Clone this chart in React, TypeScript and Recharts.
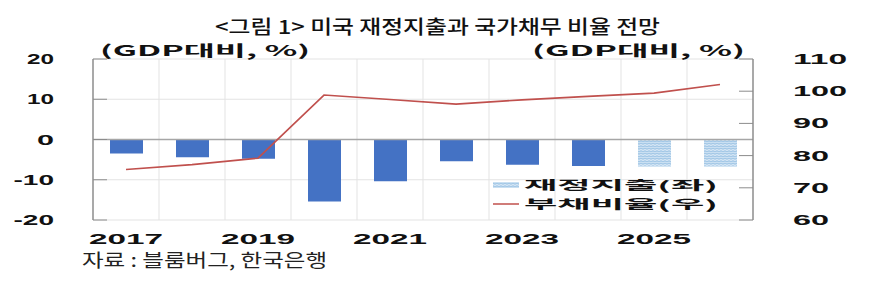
import React from 'react';
import {
  ComposedChart,
  Bar,
  Line,
  XAxis,
  YAxis,
  CartesianGrid,
  ReferenceLine,
  Cell,
} from 'recharts';

const years = ['2017', '2018', '2019', '2020', '2021', '2022', '2023', '2024', '2025', '2026'];
const spending = [-3.5, -4.4, -4.8, -15.4, -10.4, -5.4, -6.3, -6.6, -6.7, -6.7];
const debtRatio = [75.7, 77.2, 79.2, 98.8, 97.4, 96.0, 97.3, 98.4, 99.4, 102.1];
const forecastYears = ['2025', '2026'];
const leftTicks = [-20, -10, 0, 10, 20];
const rightTicks = [60, 70, 80, 90, 100, 110];

const data = years.map((year, i) => ({ year, spending: spending[i], debt: debtRatio[i] }));

const BAR_BLUE = '#4472c4';
const LINE_RED = '#c0504d';
const AXIS_GRAY = '#8c8c8c';
const NUM_FONT = '"Liberation Sans", Arial, sans-serif';
const KR_FONT = '"Noto Sans CJK KR", "Noto Sans", sans-serif';

const LeftTick = (props: any) => {
  const { x, y, payload } = props;
  const label = String(payload.value);
  return (
    <g>
      <line x1={x} y1={y} x2={x + 14} y2={y} stroke={AXIS_GRAY} strokeWidth={1} />
      <text
        x={x - 39}
        y={y + 5}
        textAnchor="end"
        fontFamily={NUM_FONT}
        fontWeight={900}
        fontSize={15}
        fill="#111"
        textLength={label.length === 1 ? 17 : label.length * 13.5}
        lengthAdjust="spacingAndGlyphs"
      >
        {label}
      </text>
    </g>
  );
};

const RightTick = (props: any) => {
  const { x, y, payload } = props;
  const label = String(payload.value);
  return (
    <g>
      <line x1={x - 14} y1={y} x2={x} y2={y} stroke={AXIS_GRAY} strokeWidth={1} />
      <text
        x={x + 40}
        y={y + 5}
        textAnchor="start"
        fontFamily={NUM_FONT}
        fontWeight={900}
        fontSize={15}
        fill="#111"
        textLength={label.length * 18}
        lengthAdjust="spacingAndGlyphs"
      >
        {label}
      </text>
    </g>
  );
};

const YearTick = (props: any) => {
  const { x, y, payload } = props;
  return (
    <text
      x={x - 37}
      y={y + 16}
      fontFamily={NUM_FONT}
      fontWeight={900}
      fontSize={15}
      fill="#111"
      textLength={74}
      lengthAdjust="spacingAndGlyphs"
    >
      {payload.value}
    </text>
  );
};

export default function App() {
  return (
    <div style={{ position: 'absolute', left: 0, top: 0, width: 869, height: 301, background: '#fff' }}>
      <div style={{ position: 'absolute', left: 0, top: 0 }}>
        <ComposedChart
          width={869}
          height={301}
          data={data}
          margin={{ top: 59, right: 0, bottom: 51, left: 0 }}
        >
          <defs>
            <pattern id="wave" width={4} height={2.5} patternUnits="userSpaceOnUse">
              <rect width={4} height={2.5} fill="#d8e8f5" />
              <path d="M0 1.25 Q1 0.2 2 1.25 T4 1.25" stroke="#6fa8d8" strokeWidth={0.8} fill="none" />
            </pattern>
          </defs>
          <CartesianGrid
            stroke="#e3e3e3"
            yAxisId="left"
            verticalCoordinatesGenerator={({ offset }: any) =>
              years.slice(1).map((_, i) => offset.left + ((i + 1) * offset.width) / years.length)
            }
          />
          <XAxis
            dataKey="year"
            interval={1}
            axisLine={false}
            tickLine={false}
            tick={<YearTick />}
            height={30}
          />
          <YAxis
            yAxisId="left"
            orientation="left"
            width={93}
            domain={[-20, 20]}
            ticks={leftTicks}
            axisLine={{ stroke: AXIS_GRAY, strokeWidth: 1.5 }}
            tickLine={false}
            tickSize={0}
            tickMargin={0}
            tick={<LeftTick />}
            allowDataOverflow
          />
          <YAxis
            yAxisId="right"
            orientation="right"
            width={116}
            domain={[60, 110]}
            ticks={rightTicks}
            axisLine={{ stroke: AXIS_GRAY, strokeWidth: 1.5 }}
            tickLine={false}
            tickSize={0}
            tickMargin={0}
            tick={<RightTick />}
            allowDataOverflow
          />
          <ReferenceLine y={0} yAxisId="left" stroke="#a6a6a6" strokeWidth={1.5} />
          <Bar dataKey="spending" yAxisId="left" barSize={33} isAnimationActive={false}>
            {data.map((d) => (
              <Cell key={d.year} fill={forecastYears.includes(d.year) ? 'url(#wave)' : BAR_BLUE} />
            ))}
          </Bar>
          <Line
            dataKey="debt"
            yAxisId="right"
            type="linear"
            stroke={LINE_RED}
            strokeWidth={1.6}
            dot={false}
            isAnimationActive={false}
          />
        </ComposedChart>
      </div>
      <svg width={869} height={301} style={{ position: 'absolute', left: 0, top: 0, pointerEvents: 'none' }}>
        <text x={215} y={34} fontFamily={KR_FONT} fontWeight={500} fontSize={19} fill="#111" textLength={445} lengthAdjust="spacingAndGlyphs">
          {'<그림 1> 미국 재정지출과 국가채무 비율 전망'}
        </text>
        <text x={100} y={56} fontFamily={KR_FONT} fontWeight={700} fontSize={15} fill="#111" textLength={210} lengthAdjust="spacingAndGlyphs">
          (GDP대비, %)
        </text>
        <text x={532} y={56} fontFamily={KR_FONT} fontWeight={700} fontSize={15} fill="#111" textLength={213} lengthAdjust="spacingAndGlyphs">
          (GDP대비, %)
        </text>
        <rect x={493} y={182} width={26} height={6} fill="url(#wave)" />
        <text x={524} y={190} fontFamily={KR_FONT} fontWeight={700} fontSize={12.5} fill="#111" textLength={194} lengthAdjust="spacingAndGlyphs">
          재정지출(좌)
        </text>
        <line x1={493} y1={204} x2={519} y2={204} stroke={LINE_RED} strokeWidth={1.5} />
        <text x={524} y={209} fontFamily={KR_FONT} fontWeight={700} fontSize={12.5} fill="#111" textLength={194} lengthAdjust="spacingAndGlyphs">
          부채비율(우)
        </text>
        <text x={82} y={267} fontFamily={KR_FONT} fontSize={18} fill="#222" textLength={245} lengthAdjust="spacingAndGlyphs">
          자료 : 블룸버그, 한국은행
        </text>
      </svg>
    </div>
  );
}
